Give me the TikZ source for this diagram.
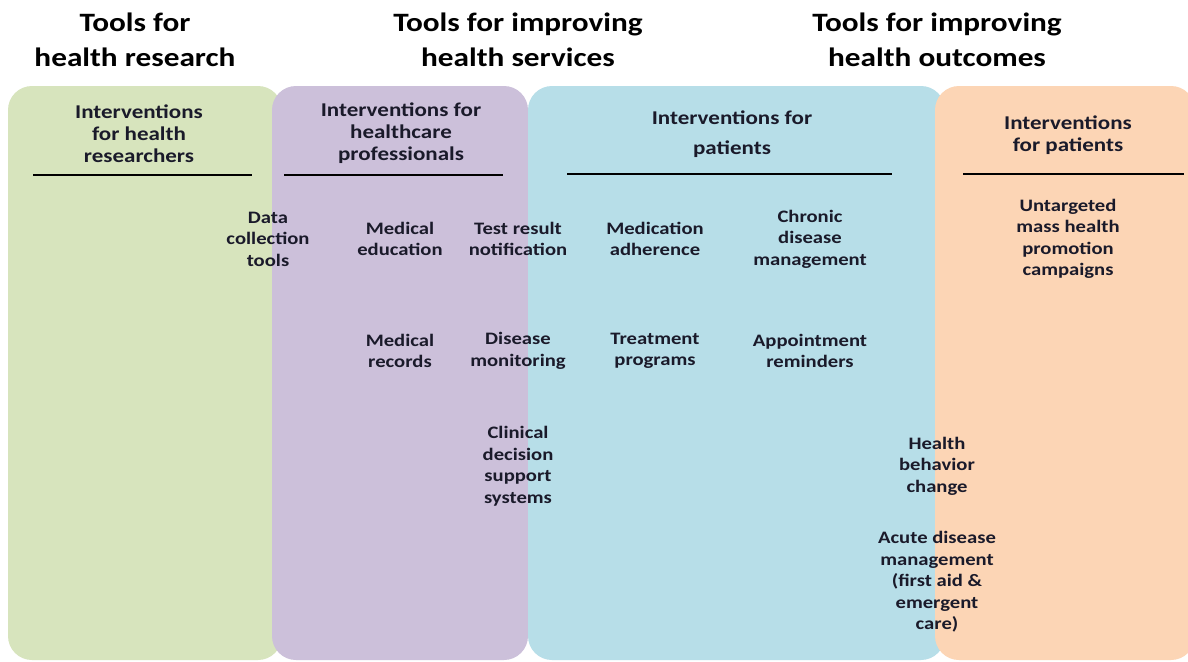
\documentclass[tikz,border=0pt]{standalone}
\usepackage{fontspec}
\setmainfont[FakeStretch=1.18]{Carlito}
\definecolor{cgreen}{HTML}{D7E4BD}
\definecolor{cpurple}{HTML}{CCC0DA}
\definecolor{cblue}{HTML}{B7DEE8}
\definecolor{corange}{HTML}{FCD5B5}
\definecolor{ctext}{HTML}{1A1A2A}
\begin{document}
\begin{tikzpicture}[x=1pt,y=-1pt,
  panel/.style={rounded corners=24pt},
  title/.style={font=\fontsize{26.5}{35}\selectfont\bfseries, align=center, text=black, inner sep=0pt},
  head/.style={font=\fontsize{19.5}{22}\selectfont\bfseries, align=center, text=ctext, inner sep=0pt},
  item/.style={font=\fontsize{17.5}{21.5}\selectfont\bfseries, align=center, text=ctext, inner sep=0pt},
  rule/.style={line width=2.6pt, black}]
\useasboundingbox (0,0) rectangle (1188,661);
\fill[white] (0,0) rectangle (1188,661);
% panels
\fill[cgreen, panel] (8,86) rectangle (282,660);
\fill[cpurple, panel] (272,86) rectangle (528,660);
\fill[cblue, panel] (528,86) rectangle (945,660);
\fill[corange, panel] (935,86) rectangle (1195,660);
% titles
\node[title] (t1) at (135,40) {Tools for\\health research};
\node[title] (t2) at (518,40) {Tools for improving\\health services};
\node[title] (t3) at (937,40) {Tools for improving\\health outcomes};
% headers
\node[head] (h1) at (139,134) {Interventions\\for health\\researchers};
\node[head] (h2) at (401,133) {Interventions for\\healthcare\\professionals};
\node[head] (h3) at (732,134) {Interventions for\\[8pt]patients};
\node[head] (h4) at (1068,135) {Interventions\\for patients};
% rules
\coordinate (r1a) at (33,175); \coordinate (r1b) at (252,175);
\coordinate (r2a) at (284,175); \coordinate (r2b) at (503,175);
\coordinate (r3a) at (567,174); \coordinate (r3b) at (892,174);
\coordinate (r4a) at (963,174); \coordinate (r4b) at (1184,174);
\draw[rule] (r1a) -- (r1b);
\draw[rule] (r2a) -- (r2b);
\draw[rule] (r3a) -- (r3b);
\draw[rule] (r4a) -- (r4b);
% items
\node[item] (i1) at (268,239) {Data\\collection\\tools};
\node[item] (i2) at (400,239) {Medical\\education};
\node[item] (i3) at (518,239) {Test result\\notification};
\node[item] (i4) at (655,239) {Medication\\adherence};
\node[item] (i5) at (810,239) {Chronic\\disease\\management};
\node[item] (i6) at (1068,239) {Untargeted\\mass health\\promotion\\campaigns};
\node[item] (i7) at (400,351) {Medical\\records};
\node[item] (i8) at (518,351) {Disease\\monitoring};
\node[item] (i9) at (655,351) {Treatment\\programs};
\node[item] (i10) at (810,351) {Appointment\\reminders};
\node[item] (i11) at (518,466) {Clinical\\decision\\support\\systems};
\node[item] (i12) at (937,466) {Health\\behavior\\change};
\node[item] (i13) at (937,582) {Acute disease\\management\\(first aid \&\\emergent\\care)};
\end{tikzpicture}
\end{document}
